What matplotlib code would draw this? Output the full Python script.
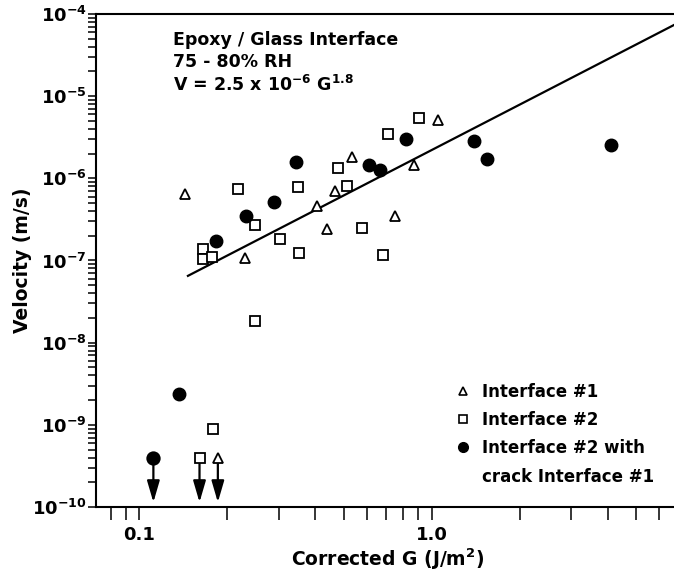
import math
import matplotlib
matplotlib.use('Agg')
import matplotlib.pyplot as plt
from matplotlib.lines import Line2D
from matplotlib.ticker import FixedLocator, LogLocator, NullFormatter, FuncFormatter

plt.rcParams['font.family'] = ['DejaVu Sans']
plt.rcParams['font.weight'] = 'bold'
plt.rcParams['mathtext.default'] = 'bf'
plt.rcParams['axes.unicode_minus'] = False

# Interface #1 (open triangles)
tri_g = [0.144, 0.230, 0.407, 0.439, 0.467, 0.534, 0.749, 0.870, 1.051]
tri_v = [6.5e-7, 1.06e-7, 4.6e-7, 2.4e-7, 7.1e-7, 1.8e-6, 3.5e-7, 1.44e-6, 5.1e-6]
# Interface #2 (open squares)
sq_g = [0.218, 0.165, 0.165, 0.177, 0.250, 0.303, 0.353, 0.350, 0.907, 0.707,
        0.479, 0.513, 0.579, 0.683, 0.250, 0.179]
sq_v = [7.4e-7, 1.38e-7, 1.05e-7, 1.11e-7, 2.7e-7, 1.85e-7, 1.25e-7, 7.9e-7, 5.4e-6, 3.5e-6,
        1.35e-6, 8.1e-7, 2.5e-7, 1.15e-7, 1.81e-8, 8.9e-10]
# Interface #2 with crack Interface #1 (filled circles)
dot_g = [0.344, 0.289, 0.232, 0.183, 0.817, 0.609, 0.667, 1.392, 1.545, 4.10, 0.137]
dot_v = [1.58e-6, 5.2e-7, 3.5e-7, 1.75e-7, 3.0e-6, 1.46e-6, 1.28e-6, 2.87e-6, 1.72e-6, 2.55e-6, 2.38e-9]

# upper bounds (arrows pointing down)
up_g = [0.112, 0.161, 0.186]
up_v = [4.0e-10, 4.0e-10, 4.0e-10]
up_marker = ['o', 's', '^']
up_tip = 1.14e-10

# fit line V = 2.5e-6 G^1.8, endpoints as drawn
fit_g = [0.147, 7.0]
fit_v = [6.5e-8, 7.9e-5]

fig = plt.figure(figsize=(6.74, 5.8), dpi=100)
ax = fig.add_axes([0.1424, 0.1259, 0.865, 0.850])
ax.set_xscale('log'); ax.set_yscale('log')
ax.set_xlim(0.0713, 7.0); ax.set_ylim(1e-10, 1e-4)

ax.plot(fit_g, fit_v, 'k-', lw=1.6, zorder=2)

ms = 7.5
ax.plot(tri_g, tri_v, '^', ms=ms, mfc='white', mec='k', mew=1.3, ls='none', zorder=3)
ax.plot(sq_g, sq_v, 's', ms=ms, mfc='white', mec='k', mew=1.3, ls='none', zorder=3)
ax.plot(dot_g, dot_v, 'o', ms=9, mfc='k', mec='k', ls='none', zorder=3)

for g, v, m in zip(up_g, up_v, up_marker):
    ax.annotate('', xy=(g, up_tip), xytext=(g, v),
                arrowprops=dict(arrowstyle='-|>,head_length=1.3,head_width=0.38',
                                lw=1.6, color='k', shrinkA=0, shrinkB=0, mutation_scale=10))
    filled = m == 'o'
    ax.plot([g], [v], m, ms=9 if filled else ms, mfc='k' if filled else 'white',
            mec='k', mew=1.3, zorder=4)

for s in ax.spines.values():
    s.set_linewidth(1.5)

ax.xaxis.set_major_locator(FixedLocator([0.1, 1.0]))
ax.xaxis.set_minor_locator(LogLocator(base=10, subs=range(2, 10)))
ax.xaxis.set_major_formatter(FuncFormatter(lambda x, p: f'{x:.1f}'))
ax.xaxis.set_minor_formatter(NullFormatter())
ax.yaxis.set_major_locator(LogLocator(base=10, numticks=10))
ax.yaxis.set_minor_locator(LogLocator(base=10, subs=range(2, 10), numticks=20))
ax.yaxis.set_major_formatter(FuncFormatter(lambda y, p: r'$\mathbf{10^{%d}}$' % int(round(math.log10(y)))))
ax.yaxis.set_minor_formatter(NullFormatter())

ax.tick_params(axis='x', which='both', direction='out', length=9.5, width=1.1, labelsize=13, pad=4)
ax.tick_params(axis='y', which='both', direction='out', length=5.5, width=1.1, labelsize=13, pad=1)
for lab in ax.get_xticklabels() + ax.get_yticklabels():
    lab.set_fontweight('bold')

ax.set_xlabel(r'Corrected G (J/m$^{\mathbf{2}}$)', fontsize=13.5, fontweight='bold', labelpad=2)
ax.set_ylabel('Velocity (m/s)', fontsize=13.5, fontweight='bold', labelpad=0)

ax.text(0.132, 0.947, 'Epoxy / Glass Interface', transform=ax.transAxes, fontsize=12.5,
        fontweight='bold', va='center')
ax.text(0.132, 0.902, '75 - 80% RH', transform=ax.transAxes, fontsize=12.5,
        fontweight='bold', va='center')
ax.text(0.132, 0.856, r'V = 2.5 x 10$^{\mathbf{-6}}$ G$^{\mathbf{1.8}}$', transform=ax.transAxes,
        fontsize=12.5, fontweight='bold', va='center')

handles = [
    Line2D([], [], marker='^', ms=5.5, mfc='white', mec='k', mew=1.2, ls='none'),
    Line2D([], [], marker='s', ms=5.5, mfc='white', mec='k', mew=1.2, ls='none'),
    Line2D([], [], marker='o', ms=7, mfc='k', mec='k', ls='none'),
    Line2D([], [], ls='none'),
]
labels = ['Interface #1', 'Interface #2', 'Interface #2 with', 'crack Interface #1']
ax.legend(handles, labels, loc='lower left', bbox_to_anchor=(0.607, 0.03), frameon=False,
          handlelength=0.8, handletextpad=0.7, labelspacing=0.62,
          borderaxespad=0, prop={'weight': 'bold', 'size': 12})

fig.savefig('out.png', dpi=100)
